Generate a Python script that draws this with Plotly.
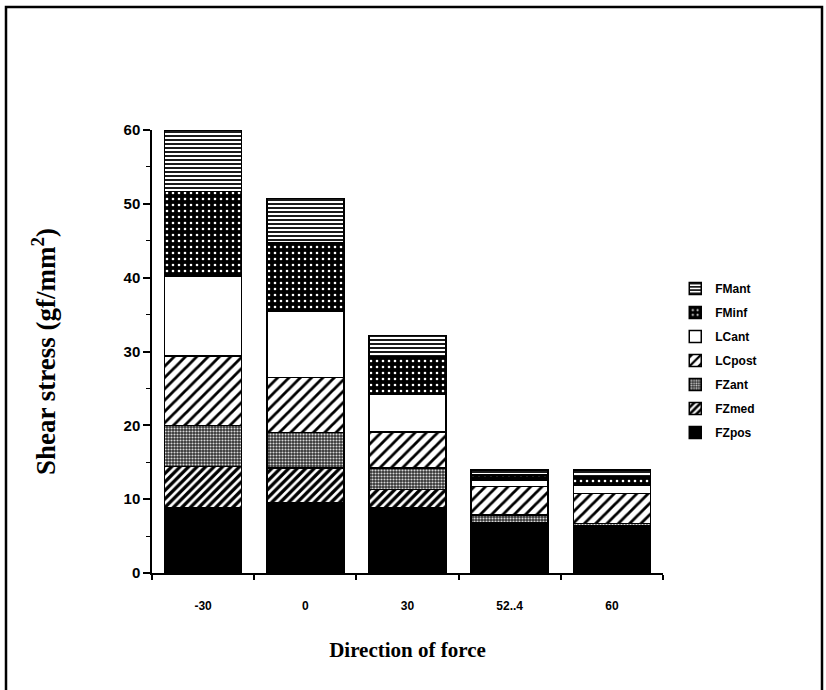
import plotly.graph_objects as go

categories = ["-30", "0", "30", "52..4", "60"]

FZpos = [8.9, 9.5, 8.9, 6.5, 6.3]
FZmed = [5.5, 4.7, 2.4, 0.3, 0.15]
FZant = [5.6, 4.8, 2.9, 1.05, 0.25]
LCpost = [9.4, 7.5, 4.9, 3.85, 4.1]
LCant = [10.8, 9.0, 5.1, 0.9, 1.1]
FMinf = [11.5, 9.2, 5.1, 0.7, 1.15]
FMant = [8.3, 6.05, 2.9, 0.65, 0.9]

series = [
    ("FZpos", FZpos, dict(color="black")),
    ("FZmed", FZmed, dict(color="white", pattern=dict(shape="/", fgcolor="black", bgcolor="white", size=6, solidity=0.55, fillmode="replace"))),
    ("FZant", FZant, dict(color="#555", pattern=dict(shape=".", fgcolor="#d8d8d8", bgcolor="#333333", size=3, solidity=0.4, fillmode="replace"))),
    ("LCpost", LCpost, dict(color="white", pattern=dict(shape="/", fgcolor="black", bgcolor="white", size=8, solidity=0.35, fillmode="replace"))),
    ("LCant", LCant, dict(color="white")),
    ("FMinf", FMinf, dict(color="black", pattern=dict(shape=".", fgcolor="white", bgcolor="black", size=6, solidity=0.15, fillmode="replace"))),
    ("FMant", FMant, dict(color="white", pattern=dict(shape="-", fgcolor="black", bgcolor="white", size=4, solidity=0.45, fillmode="replace"))),
]

fig = go.Figure()
n = len(series)
for i, (name, vals, marker) in enumerate(series):
    m = dict(marker)
    m["line"] = dict(color="black", width=1.5)
    fig.add_trace(go.Bar(x=categories, y=vals, name=name, marker=m,
                         legendgroup=name, legendrank=n - i))

fig.update_layout(
    barmode="stack",
    bargap=0.247,
    width=826,
    height=690,
    margin=dict(l=152, r=163, t=130, b=117),
    plot_bgcolor="white",
    paper_bgcolor="white",
    font=dict(family="Liberation Sans, Arial, sans-serif", color="black"),
    legend=dict(
        x=1.024, y=0.675, xanchor="left", yanchor="top",
        traceorder="grouped", tracegroupgap=5,
        font=dict(size=12, family="Liberation Sans, Arial, sans-serif", weight="bold"),
        bgcolor="rgba(0,0,0,0)",
    ),
    showlegend=True,
)

fig.update_yaxes(
    range=[0, 60],
    tickvals=[0, 10, 20, 30, 40, 50, 60],
    ticks="outside", ticklen=7, tickwidth=1.5, tickcolor="black",
    minor=dict(dtick=5, ticks="outside", ticklen=4, tickwidth=1, tickcolor="black"),
    showline=True, linecolor="black", linewidth=1.5,
    showgrid=False, zeroline=False,
    tickfont=dict(size=15, family="Liberation Sans, Arial, sans-serif", weight="bold"),
    title=dict(text="Shear stress (gf/mm<sup>2</sup>)", standoff=60,
               font=dict(size=27, family="Liberation Serif, Times New Roman, serif", weight="bold")),
)

fig.update_xaxes(
    type="category",
    tickson="boundaries",
    ticks="outside", ticklen=5, tickwidth=1.5, tickcolor="black",
    showline=True, linecolor="black", linewidth=1.5,
    showgrid=False, zeroline=False,
    ticklabelstandoff=21,
    tickfont=dict(size=12, family="Liberation Sans, Arial, sans-serif", weight="bold"),
    title=dict(text="Direction of force", standoff=30,
               font=dict(size=21, family="Liberation Serif, Times New Roman, serif", weight="bold")),
)

# outer frame around the figure
fig.add_shape(type="rect", xref="paper", yref="paper",
              x0=(6 - 152) / 511, x1=(822 - 152) / 511,
              y0=(573 - 720) / 443, y1=(573 - 7) / 443,
              line=dict(color="black", width=2.5), fillcolor="rgba(0,0,0,0)", layer="below")

fig.write_html("out.html",
               config={"displayModeBar": False},
               post_script="document.body.style.margin='0px';document.body.style.overflow='hidden';")
